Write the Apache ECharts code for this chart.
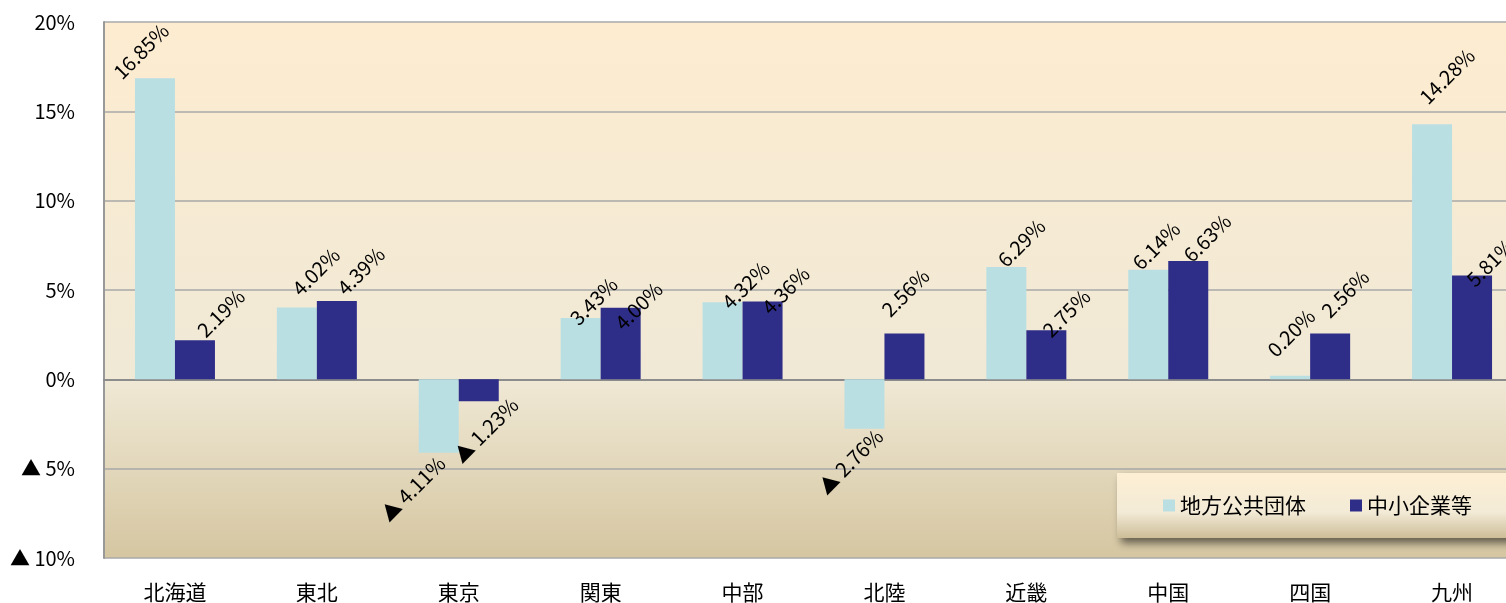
<!DOCTYPE html>
<html>
<head>
<meta charset="utf-8">
<script src="https://cdn.jsdelivr.net/npm/echarts@6/dist/echarts.min.js"></script>
<style>
html,body{margin:0;padding:0;background:#fff;}
#chart{width:1506px;height:603px;}
</style>
</head>
<body>
<div id="chart"></div>
<script>
const categories = ['北海道','東北','東京','関東','中部','北陸','近畿','中国','四国','九州'];
const seriesNames = ['地方公共団体','中小企業等'];
const localGov = [16.85, 4.02, -4.11, 3.43, 4.32, -2.76, 6.29, 6.14, 0.20, 14.28];
const smeEtc = [2.19, 4.39, -1.23, 4.00, 4.36, 2.56, 2.75, 6.63, 2.56, 5.81];
const yMin = -10, yMax = 20, yStep = 5;

// label nudges (screen px, relative to the bar end anchor computed by ECharts)
const localGovLabelNudge = [[-14,-27],[19,-36],[-26,36],[13,-17],[23,-17],[-14,33],[15,-24],[8,-24],[1,-43],[15,-48]];
const smeLabelNudge = [[26,-27],[24,-30],[7,29],[18,-2],[23,-11],[1,-41],[20,-17],[19,-23],[15,-40],[18,-13]];

const FONT = '"Noto Sans CJK JP", "Noto Sans", sans-serif';
const ROT = 45;
const fmtPct = v => (v < 0 ? '▲ ' + Math.abs(v).toFixed(2) : v.toFixed(2)) + '%';
const fmtTick = v => (v < 0 ? '▲ ' + Math.abs(v) : v) + '%';

// offsets rotate with the label, so counter-rotate the desired screen offset
function localOffset(d) {
  const r = ROT * Math.PI / 180, c = Math.cos(r), s = Math.sin(r);
  return [d[0] * c - d[1] * s, d[0] * s + d[1] * c];
}
function buildData(values, nudges) {
  return values.map((v, i) => ({ value: v, label: { offset: localOffset(nudges[i]) } }));
}

const chart = echarts.init(document.getElementById('chart'));
const labelCfg = {
  show: true,
  position: 'outside',
  rotate: ROT,
  align: 'center',
  verticalAlign: 'middle',
  distance: 0,
  color: '#000',
  fontFamily: FONT,
  fontSize: 20,
  formatter: p => fmtPct(p.value)
};
chart.setOption({
  animation: false,
  textStyle: { fontFamily: FONT },
  grid: {
    left: 104, top: 22, width: 1419, bottom: 45,
    outerBoundsMode: 'none',
    containLabel: false,
    show: true,
    borderWidth: 0,
    backgroundColor: new echarts.graphic.LinearGradient(0, 0, 0, 1, [
      { offset: 0, color: '#FDECD0' },
      { offset: 0.66, color: '#F0E9D6' },
      { offset: 1, color: '#D5C6A1' }
    ])
  },
  legend: {
    data: seriesNames,
    left: 1117, top: 473, width: 600,
    orient: 'horizontal',
    itemWidth: 12, itemHeight: 12, itemGap: 44,
    padding: [22, 60, 22, 46],
    icon: 'rect',
    textStyle: { fontSize: 21, color: '#000', fontFamily: FONT },
    backgroundColor: new echarts.graphic.LinearGradient(0, 0, 0, 1, [
      { offset: 0, color: '#FDEFD3' },
      { offset: 0.6, color: '#F3EBD7' },
      { offset: 1, color: '#CDBD98' }
    ]),
    shadowColor: 'rgba(0,0,0,0.55)',
    shadowBlur: 8,
    shadowOffsetX: 4,
    shadowOffsetY: 5
  },
  xAxis: {
    type: 'category',
    data: categories,
    axisLine: { onZero: true, lineStyle: { color: '#8C8C8C', width: 2 } },
    axisTick: { show: false },
    axisLabel: { fontSize: 21, color: '#000', margin: 24, fontFamily: FONT }
  },
  yAxis: {
    type: 'value',
    min: yMin, max: yMax, interval: yStep,
    axisLine: { show: true, lineStyle: { color: '#999', width: 2 } },
    axisTick: { show: false },
    splitLine: { show: true, lineStyle: { color: '#A8A8A8', width: 1.5 } },
    axisLabel: { fontSize: 20, color: '#000', margin: 29, fontFamily: FONT, formatter: fmtTick }
  },
  series: [
    {
      name: seriesNames[0], type: 'bar', data: buildData(localGov, localGovLabelNudge),
      barWidth: 40, barGap: '0%',
      itemStyle: { color: '#BADFE3' },
      label: labelCfg
    },
    {
      name: seriesNames[1], type: 'bar', data: buildData(smeEtc, smeLabelNudge),
      barWidth: 40, barGap: '0%',
      itemStyle: { color: '#2E2D88' },
      label: labelCfg
    }
  ]
});
</script>
</body>
</html>
